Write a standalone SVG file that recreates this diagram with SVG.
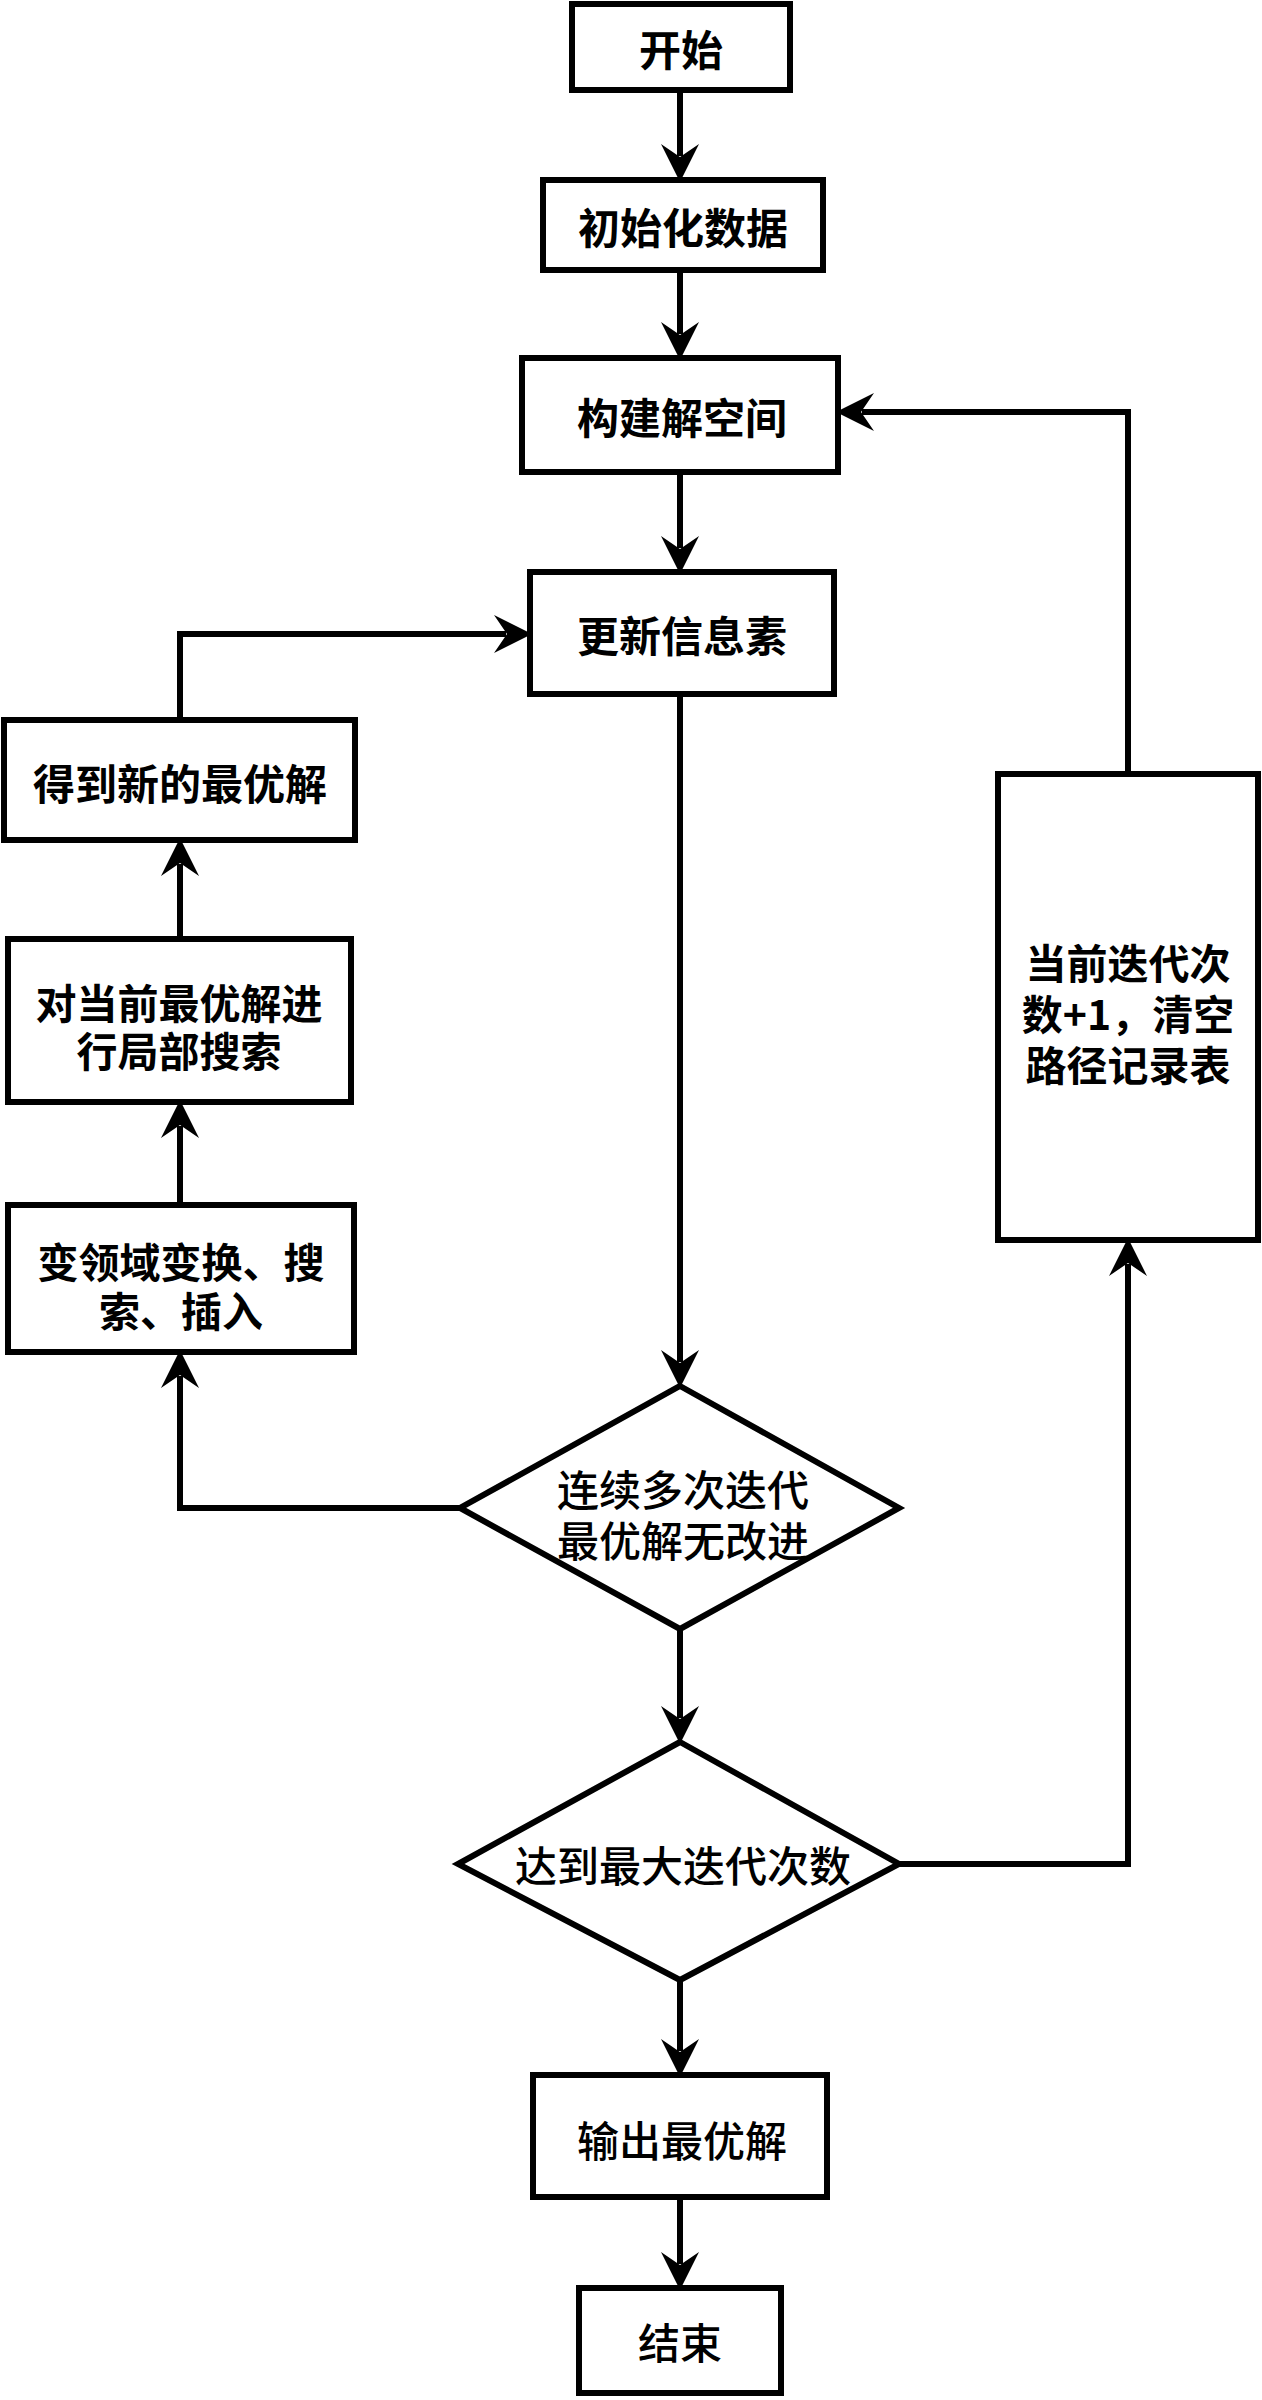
<svg xmlns="http://www.w3.org/2000/svg" width="1262" height="2400" viewBox="0 0 1262 2400">
<style>
.box{fill:#fff;stroke:#000;stroke-width:6}
.dia{fill:#fff;stroke:#000;stroke-width:6;stroke-linejoin:miter}
.t{font-family:"Noto Sans CJK SC","Liberation Sans",sans-serif;font-size:42px;font-weight:bold;fill:#000;text-anchor:middle;dominant-baseline:central}
.t2{font-family:"Noto Sans CJK SC","Liberation Sans",sans-serif;font-size:41px;font-weight:bold;fill:#000;text-anchor:middle;dominant-baseline:central}
.td{font-family:"Noto Sans CJK SC","Liberation Sans",sans-serif;font-size:42px;font-weight:500;fill:#000;text-anchor:middle;dominant-baseline:central}
.c{fill:none;stroke:#000;stroke-width:6;marker-end:url(#ah)}
</style>
<defs>
<marker id="ah" markerUnits="userSpaceOnUse" viewBox="0 -20 40 40" refX="12" refY="0" markerWidth="40" markerHeight="40" orient="auto">
<path d="M0,-19 L38,0 L0,19 L13,0 Z" fill="#000"/>
</marker>
</defs>
<rect width="1262" height="2400" fill="#fff"/>
<g id="connectors">
<path class="c" d="M680,90 V156"/>
<path class="c" d="M680,270 V334"/>
<path class="c" d="M680,472 V548"/>
<path class="c" d="M680,694 V1362"/>
<path class="c" d="M680,1629 V1718"/>
<path class="c" d="M680,1980 V2051"/>
<path class="c" d="M680,2197 V2264"/>
<path class="c" d="M460,1508 H180 V1376"/>
<path class="c" d="M180,1205 V1126"/>
<path class="c" d="M180,939 V864"/>
<path class="c" d="M180,720 V634 H506"/>
<path class="c" d="M897,1864 H1128 V1264"/>
<path class="c" d="M1128,774 V412 H862"/>
</g>
<g id="start">
<rect class="box" x="572" y="4" width="218" height="86"/>
<text class="t" x="681" y="47">开始</text>
</g>
<g id="init">
<rect class="box" x="543" y="180" width="280" height="90"/>
<text class="t" x="683" y="225">初始化数据</text>
</g>
<g id="build">
<rect class="box" x="522" y="358" width="316" height="114"/>
<text class="t" x="682" y="415">构建解空间</text>
</g>
<g id="update">
<rect class="box" x="530" y="572" width="304" height="122"/>
<text class="t" x="682" y="633">更新信息素</text>
</g>
<g id="newbest">
<rect class="box" x="4" y="720" width="351" height="120"/>
<text class="t" x="180" y="781">得到新的最优解</text>
</g>
<g id="localsearch">
<rect class="box" x="8" y="939" width="343" height="163"/>
<text class="t2"><tspan x="179" y="1001">对当前最优解进</tspan><tspan x="179" y="1049">行局部搜索</tspan></text>
</g>
<g id="neighborhood">
<rect class="box" x="8" y="1205" width="346" height="147"/>
<text class="t2"><tspan x="181" y="1260">变领域变换、搜</tspan><tspan x="181" y="1309">索、插入</tspan></text>
</g>
<g id="noimprove">
<polygon class="dia" points="680,1386 899,1508 680,1629 460,1508"/>
<text class="td"><tspan x="683" y="1487">连续多次迭代</tspan><tspan x="683" y="1538">最优解无改进</tspan></text>
</g>
<g id="maxiter">
<polygon class="dia" points="680,1742 899,1864 680,1980 458,1864"/>
<text class="td" x="683" y="1863">达到最大迭代次数</text>
</g>
<g id="increment">
<rect class="box" x="998" y="774" width="260" height="466"/>
<text class="t2"><tspan x="1128" y="961">当前迭代次</tspan><tspan x="1128" y="1012">数+1，清空</tspan><tspan x="1128" y="1063">路径记录表</tspan></text>
</g>
<g id="output">
<rect class="box" x="533" y="2075" width="294" height="122"/>
<text class="td" x="682" y="2138">输出最优解</text>
</g>
<g id="end">
<rect class="box" x="579" y="2288" width="202" height="105"/>
<text class="td" x="680" y="2340">结束</text>
</g>
</svg>
